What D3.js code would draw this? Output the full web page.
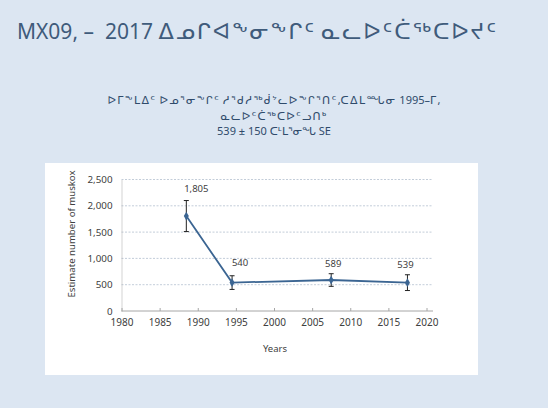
<!DOCTYPE html>
<html>
<head>
<meta charset="utf-8">
<script src="https://cdn.jsdelivr.net/npm/d3@7"></script>
<style>
  html, body { margin: 0; padding: 0; background: #dce6f2; }
  svg { display: block; }
</style>
</head>
<body>
<svg id="chart" width="548" height="408"></svg>
<script>
"use strict";

const years = [1988.5, 1994.5, 2007.5, 2017.5];
const estimates = [1805, 540, 589, 539];
const errors = [295, 130, 120, 150];
const xTicks = [1980, 1985, 1990, 1995, 2000, 2005, 2010, 2015, 2020];
const yTicks = [0, 500, 1000, 1500, 2000, 2500];

const titleText = "MX09, –  2017 ᐃᓄᒋᐊᖕᓂᖕᒋᑦ ᓇᓚᐅᑦᑖᖅᑕᐅᔪᑦ";
const subtitleLines = [
  "ᐅᒥᖕᒪᐃᑦ ᐅᓄᕐᓂᖕᒋᑦ ᓱᕐᑯᓱᖅᑰᔾᓚᐅᖕᒋᕐᑎᑦ,ᑕᐃᒪᙵᓂ 1995–ᒥ,",
  "ᓇᓚᐅᑦᑖᖅᑕᐅᑦᓗᑎᒃ",
  "539 ± 150 ᑕᒻᒪᕐᓂᖓ SE"
];

const font = "'Noto Sans', 'DejaVu Sans', sans-serif";
const svg = d3.select("#chart").style("font-family", font);

// mixed latin / syllabics text: syllabic runs get their own size and
// spacing so the line reaches the width it has on the slide
const isSyl = s => /[\u1400-\u167F]/.test(s);
function richText(sel, str, latinSize, sylSize, width) {
  const runs = str.match(/[\u1400-\u167F]+|[^\u1400-\u167F]+/g);
  runs.forEach(r => {
    sel.append("tspan")
      .attr("class", isSyl(r) ? "syl" : "lat")
      .attr("font-size", isSyl(r) ? sylSize : latinSize)
      .text(r);
  });
  const len = sel.node().getComputedTextLength();
  const n = runs.filter(isSyl).join("").length;
  if (n && width > len) sel.selectAll("tspan.syl").attr("letter-spacing", (width - len) / n);
}

svg.append("rect").attr("width", 548).attr("height", 408).attr("fill", "#dce6f2");

const title = svg.append("text")
  .attr("x", 17).attr("y", 39)
  .style("white-space", "pre")
  .attr("fill", "#3f5b7b");
richText(title, titleText, 21, 22.5, 481);

const subWidths = [333, 107, 104];
svg.append("g")
  .attr("text-anchor", "middle")
  .attr("fill", "#2f4b6b")
  .selectAll("text")
  .data(subtitleLines)
  .join("text")
  .attr("x", 274)
  .attr("y", (d, i) => 104 + i * 15.5)
  .each(function (d, i) { richText(d3.select(this), d, 11, 11, subWidths[i]); });

// white chart panel
svg.append("rect")
  .attr("x", 45).attr("y", 163)
  .attr("width", 433).attr("height", 212)
  .attr("fill", "#ffffff");

const x = d3.scaleLinear().domain([1980, 2020]).range([121.5, 426.5]);
const y = d3.scaleLinear().domain([0, 2500]).range([311, 179.5]);
const plotRight = 433;

// gridlines
svg.append("g")
  .selectAll("line")
  .data(yTicks.slice(1))
  .join("line")
  .attr("x1", x(1980)).attr("x2", plotRight)
  .attr("y1", d => y(d)).attr("y2", d => y(d))
  .attr("stroke", "#b4c0cf")
  .attr("stroke-width", 0.8)
  .attr("stroke-dasharray", "2,1.5");

// y axis (dotted line, no ticks)
const yAxis = svg.append("g")
  .attr("transform", `translate(${x(1980)},0)`)
  .call(d3.axisLeft(y).tickValues(yTicks).tickSize(0).tickPadding(9)
    .tickFormat(d3.format(",")));
yAxis.select(".domain")
  .attr("stroke", "#a6a6a6")
  .attr("stroke-dasharray", "1,1");
yAxis.selectAll("text")
  .attr("font-size", 9.8)
  .attr("fill", "#404040")
  .attr("font-family", font);

// x axis
const xAxis = svg.append("g")
  .attr("transform", `translate(0,${y(0)})`)
  .call(d3.axisBottom(x).tickValues(xTicks).tickSize(0).tickPadding(8)
    .tickFormat(d3.format("d")));
xAxis.select(".domain").remove();
xAxis.append("line")
  .attr("x1", x(1980)).attr("x2", plotRight)
  .attr("stroke", "#a6a6a6").attr("stroke-width", 1);
xAxis.selectAll(".tick line")
  .attr("y1", -3).attr("y2", 0)
  .attr("stroke", "#a6a6a6");
xAxis.selectAll("text")
  .attr("font-size", 10)
  .attr("fill", "#404040")
  .attr("font-family", font);

// axis titles
svg.append("text")
  .attr("x", 275).attr("y", 352)
  .attr("text-anchor", "middle")
  .attr("font-size", 9.5)
  .attr("fill", "#404040")
  .text("Years");

svg.append("text")
  .attr("transform", "translate(75,234) rotate(-90)")
  .attr("text-anchor", "middle")
  .attr("font-size", 9.6)
  .attr("fill", "#404040")
  .text("Estimate number of muskox");

const data = years.map((yr, i) => ({ yr, v: estimates[i], e: errors[i] }));

// line
svg.append("path")
  .datum(data)
  .attr("fill", "none")
  .attr("stroke", "#3b6592")
  .attr("stroke-width", 1.8)
  .attr("d", d3.line().x(d => x(d.yr)).y(d => y(d.v)));

// error bars
const eb = svg.append("g").attr("stroke", "#222").attr("stroke-width", 1);
eb.selectAll("line.v").data(data).join("line").attr("class", "v")
  .attr("x1", d => x(d.yr)).attr("x2", d => x(d.yr))
  .attr("y1", d => y(d.v + d.e)).attr("y2", d => y(d.v - d.e));
eb.selectAll("line.t").data(data).join("line").attr("class", "t")
  .attr("x1", d => x(d.yr) - 2.5).attr("x2", d => x(d.yr) + 2.5)
  .attr("y1", d => y(d.v + d.e)).attr("y2", d => y(d.v + d.e));
eb.selectAll("line.b").data(data).join("line").attr("class", "b")
  .attr("x1", d => x(d.yr) - 2.5).attr("x2", d => x(d.yr) + 2.5)
  .attr("y1", d => y(d.v - d.e)).attr("y2", d => y(d.v - d.e));

// markers
svg.append("g")
  .selectAll("path")
  .data(data)
  .join("path")
  .attr("transform", d => `translate(${x(d.yr)},${y(d.v)})`)
  .attr("d", d3.symbol(d3.symbolDiamond, 22))
  .attr("fill", "#3b6592");

// data labels (hand-placed on the slide, so each has its own nudge)
const labelDx = [10, 8, 2, -2];
const labelDy = [-24, -17, -13, -15];
svg.append("g")
  .attr("text-anchor", "middle")
  .attr("font-size", 9.5)
  .attr("fill", "#404040")
  .selectAll("text")
  .data(data)
  .join("text")
  .attr("x", (d, i) => x(d.yr) + labelDx[i])
  .attr("y", (d, i) => y(d.v) + labelDy[i])
  .text(d => d3.format(",")(d.v));
</script>
</body>
</html>
